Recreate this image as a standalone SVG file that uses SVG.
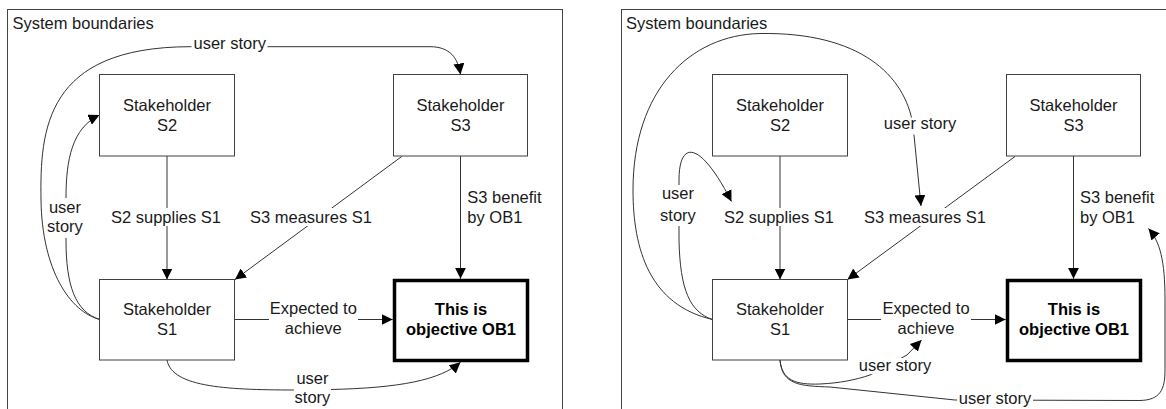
<svg xmlns="http://www.w3.org/2000/svg" width="1166" height="409" viewBox="0 0 1166 409">
<defs>
<marker id="ah" markerUnits="userSpaceOnUse" markerWidth="11" markerHeight="11" refX="11" refY="5.5" orient="auto">
<path d="M0,0 L11,5.5 L0,11 z" fill="#000"/>
</marker>
<style>
.frame{fill:none;stroke:#444;stroke-width:1}
.box{fill:#fff;stroke:#404040;stroke-width:1}
.obj{fill:#fff;stroke:#000;stroke-width:3.5}
.c{fill:none;stroke:#333;stroke-width:1}
.a{marker-end:url(#ah)}
.lbg{fill:#fff}
text{font-family:"Liberation Sans",Arial,sans-serif;font-size:16.5px;fill:#1a1a1a}
.m{text-anchor:middle}
.b{font-weight:bold;fill:#000}
</style>
</defs>
<rect width="1166" height="409" fill="#fff"/>

<g id="frames">
<rect class="frame" x="7.5" y="9.5" width="555" height="420"/>
<text x="12.5" y="29">System boundaries</text>
<rect class="frame" x="621.5" y="9.5" width="560" height="420"/>
<text x="626" y="29">System boundaries</text>
</g>

<g id="connectors">
<!-- left panel -->
<path class="c a" d="M100,319.5 C70,312 42,270 41,200 C40,130 45,47 190,46.7 L430,46.7 C450,46.7 458,58 460.5,74.5"/>
<path class="c a" d="M100,319.5 C75,312 66,285 66,240 L66,198 C66,160 72,128 99.5,115"/>
<path class="c a" d="M167,156 L167,279.5"/>
<path class="c a" d="M401.7,156.5 L235,279.5"/>
<path class="c a" d="M460.5,156 L460.5,278.7"/>
<path class="c a" d="M234.5,319.5 L392.7,319.5"/>
<path class="c a" d="M167,360 C172,388 230,390 300,390 L330,389.5 C400,388 440,380 460.5,362.3"/>
<!-- right panel -->
<path class="c a" d="M780,156 L780,279.5"/>
<path class="c a" d="M1015,156.5 L847.5,279.5"/>
<path class="c a" d="M1073.5,156 L1073.5,278.7"/>
<path class="c a" d="M847,319.5 L1005.7,319.5"/>
<path class="c a" d="M712.5,319.5 C650,305 633,250 633,190 C633,90 690,35 760,33.5 C860,32 905,75 913,125 L921,206"/>
<path class="c a" d="M712.5,319.5 C690,312 680,290 679,240 L679,180 C679,140 700,140 731.5,201.5"/>
<path class="c a" d="M780,360 C782,380 795,385 820,384 C840,383 855,380 870,375 L907,355 L921.5,340"/>
<path class="c a" d="M780,360 C782,385 800,386 830,387 L955,400 L1140,400.5 C1160,400 1165,390 1165,370 L1165,300 C1165,260 1160,242 1148.5,228.5"/>
</g>

<g id="labels">
<rect class="lbg" x="191.5" y="37" width="76" height="16"/>
<text class="m" x="229.7" y="49">user story</text>
<rect class="lbg" x="47" y="198" width="37" height="40"/>
<text class="m" x="65" y="212.7">user</text>
<text class="m" x="65" y="232">story</text>
<rect class="lbg" x="110" y="208" width="112" height="18"/>
<text class="m" x="166" y="222.5">S2 supplies S1</text>
<rect class="lbg" x="249" y="208" width="124" height="18"/>
<text class="m" x="311" y="222.5">S3 measures S1</text>
<text x="467.3" y="203">S3 benefit</text>
<text x="467.3" y="222.5">by OB1</text>
<rect class="lbg" x="269" y="301" width="89" height="38"/>
<text class="m" x="313.3" y="314.3">Expected to</text>
<text class="m" x="313.3" y="334.3">achieve</text>
<rect class="lbg" x="294" y="372" width="37" height="37"/>
<text class="m" x="312.5" y="384.3">user</text>
<text class="m" x="312.5" y="403.3">story</text>

<rect class="lbg" x="882" y="117.5" width="76" height="17"/>
<text class="m" x="920" y="129.3">user story</text>
<rect class="lbg" x="659" y="185" width="38" height="41"/>
<text class="m" x="678" y="199">user</text>
<text class="m" x="678" y="220.5">story</text>
<rect class="lbg" x="724" y="208" width="112" height="18"/>
<text class="m" x="779" y="222.5">S2 supplies S1</text>
<rect class="lbg" x="863" y="208" width="124" height="18"/>
<text class="m" x="925" y="222.5">S3 measures S1</text>
<text x="1080" y="203">S3 benefit</text>
<text x="1080" y="222.5">by OB1</text>
<rect class="lbg" x="881" y="301" width="90" height="38"/>
<text class="m" x="926" y="314.3">Expected to</text>
<text class="m" x="926" y="334.3">achieve</text>
<rect class="lbg" x="857" y="358" width="76" height="16"/>
<text class="m" x="895" y="370.5">user story</text>
<rect class="lbg" x="957" y="392" width="76" height="16"/>
<text class="m" x="995" y="404">user story</text>
</g>

<g id="L-S2"><rect class="box" x="99.5" y="74.5" width="135" height="81.5"/><text class="m" x="167" y="110.5">Stakeholder</text><text class="m" x="167" y="130.5">S2</text></g>
<g id="L-S3"><rect class="box" x="393.5" y="74.5" width="134" height="81.5"/><text class="m" x="460.5" y="110.5">Stakeholder</text><text class="m" x="460.5" y="130.5">S3</text></g>
<g id="L-S1"><rect class="box" x="99.5" y="279.5" width="135" height="80.5"/><text class="m" x="167" y="314.5">Stakeholder</text><text class="m" x="167" y="334.5">S1</text></g>
<g id="L-OB1"><rect class="obj" x="394.5" y="280.5" width="133" height="80"/><text class="m b" x="461" y="314.5">This is</text><text class="m b" x="461" y="334.5">objective OB1</text></g>

<g id="R-S2"><rect class="box" x="712.5" y="74.5" width="135" height="81.5"/><text class="m" x="780" y="110.5">Stakeholder</text><text class="m" x="780" y="130.5">S2</text></g>
<g id="R-S3"><rect class="box" x="1006.5" y="74.5" width="134" height="81.5"/><text class="m" x="1073.5" y="110.5">Stakeholder</text><text class="m" x="1073.5" y="130.5">S3</text></g>
<g id="R-S1"><rect class="box" x="712.5" y="279.5" width="135" height="80.5"/><text class="m" x="780" y="314.5">Stakeholder</text><text class="m" x="780" y="334.5">S1</text></g>
<g id="R-OB1"><rect class="obj" x="1007.5" y="280.5" width="133" height="80"/><text class="m b" x="1074" y="314.5">This is</text><text class="m b" x="1074" y="334.5">objective OB1</text></g>
</svg>
